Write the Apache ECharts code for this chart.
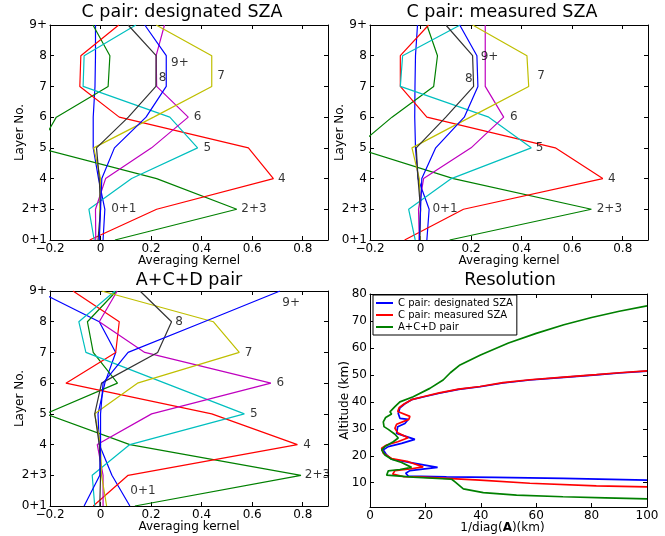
<!DOCTYPE html>
<html><head><meta charset="utf-8">
<script src="https://cdn.jsdelivr.net/npm/echarts@6/dist/echarts.min.js"></script>
<style>html,body{margin:0;padding:0;background:#fff}#c{width:665px;height:536px}</style>
</head><body><div id="c"></div>
<script>
// ---------- categories / tick labels ----------
const layerTicks = ['0+1','2+3','4','5','6','7','8','9+'];
const kernelNames = ['0+1','2+3','4','5','6','7','8','9+'];
const kernelColors = ['#0000ff','#008000','#ff0000','#00bfbf','#bf00bf','#bfbf00','#333333','#0000ff'];
const kernelXTicks = [-0.2, 0, 0.2, 0.4, 0.6, 0.8];
const resXTicks = [0, 20, 40, 60, 80, 100];
const resYTicks = [10, 20, 30, 40, 50, 60, 70, 80];

// ---------- C pair: designated SZA (rows of averaging kernel, layers 0+1 .. 9+) ----------
const des01 = [0.01, 0.017, -0.008, -0.029, -0.029, -0.022, -0.02, -0.02];
const des23 = [0.057, 0.539, 0.222, -0.245, -0.175, 0.03, 0.037, -0.03];
const des4  = [-0.043, 0.222, 0.684, 0.585, 0.074, -0.082, -0.078, 0.072];
const des5  = [-0.025, -0.046, 0.123, 0.384, 0.274, -0.069, -0.065, 0.14];
const des6  = [-0.019, -0.02, 0.02, 0.202, 0.347, 0.222, 0.22, 0.253];
const des7  = [-0.005, -0.003, 0.0, -0.027, 0.21, 0.44, 0.44, 0.22];
const des8  = [-0.01, 0.0, -0.005, -0.016, 0.11, 0.219, 0.22, 0.109];
const des9  = [-0.005, 0.0, 0.005, 0.055, 0.18, 0.26, 0.26, 0.175];
const desLabelX = [0.04, 0.555, 0.70, 0.405, 0.367, 0.46, 0.228, 0.277];
const desLabelY = [1, 1, 2, 3, 4, 5.34, 5.29, 5.76];

// ---------- C pair: measured SZA ----------
const mea01 = [0.025, 0.034, -0.01, -0.02, -0.023, -0.022, -0.02, -0.012];
const mea23 = [0.115, 0.676, 0.13, -0.258, -0.113, 0.052, 0.067, 0.025];
const mea4  = [-0.063, 0.17, 0.721, 0.533, 0.025, -0.08, -0.08, 0.032];
const mea5  = [-0.021, -0.047, 0.122, 0.438, 0.27, -0.08, -0.071, 0.157];
const mea6  = [-0.005, -0.008, 0.012, 0.2, 0.329, 0.256, 0.256, 0.256];
const mea7  = [-0.002, 0.0, -0.005, -0.034, 0.197, 0.428, 0.421, 0.206];
const mea8  = [-0.005, 0.0, -0.01, -0.017, 0.1, 0.21, 0.206, 0.1];
const mea9  = [-0.004, 0.0, 0.005, 0.06, 0.173, 0.227, 0.223, 0.155];
const meaLabelX = [0.045, 0.695, 0.74, 0.454, 0.352, 0.46, 0.174, 0.236];
const meaLabelY = [1, 1, 2, 3, 4, 5.34, 5.24, 5.95];

// ---------- A+C+D pair ----------
const acd01 = [0.116, 0.045, -0.005, -0.01, 0.017, 0.06, -0.005, -0.249];
const acd23 = [0.136, 0.793, 0.116, -0.217, 0.067, -0.029, -0.052, 0.063];
const acd4  = [-0.029, 0.109, 0.779, 0.44, -0.137, 0.06, 0.074, -0.109];
const acd5  = [-0.023, -0.033, 0.116, 0.569, 0.255, -0.058, -0.086, 0.057];
const acd6  = [0.01, 0.01, -0.013, 0.202, 0.674, 0.175, -0.005, 0.066];
const acd7  = [0.024, 0.004, 0.0, -0.023, 0.146, 0.549, 0.446, 0.004];
const acd8  = [-0.003, 0.0, -0.005, -0.023, 0.004, 0.226, 0.281, 0.156];
const acd9  = [-0.065, -0.003, 0.0, 0.0, 0.01, 0.109, 0.41, 0.71];
const acdLabelX = [0.116, 0.806, 0.80, 0.589, 0.694, 0.569, 0.294, 0.717];
const acdLabelY = [0.49, 1, 2, 3, 4, 5, 6, 6.62];

// ---------- Resolution: [1/diag(A) km, altitude km] ----------
const resDesignated = [[100,51.4],[90,50.7],[81.7,50],[70,49.1],[57.7,48.1],[48,47],[39.7,45.6],[32,44.6],[25,43.2],[19.5,41.9],[15,40.8],[12.6,39.3],[10.8,37.8],[10.2,35.7],[10.8,33.9],[13.8,33.5],[12.6,32],[10,30.8],[9.6,28.3],[13.2,27.1],[16.2,26.1],[11.4,24.6],[6.6,23.4],[4.8,22.2],[6,20.3],[7.8,18.7],[16.2,17.2],[24.4,15.7],[14.4,14.5],[12.9,13.5],[13.8,12.5],[27.6,12.2],[45.1,12],[69.7,11.6],[100,11.0]];
const resMeasured = [[100,51.5],[90,50.8],[81.7,50.1],[70,49.2],[57.7,48.2],[48,47.1],[39.7,45.7],[32,44.7],[25,43.3],[19.5,42],[15,40.8],[12.3,39.2],[10.5,37.8],[10,36.4],[14.4,34.6],[14,33.5],[9.6,31.7],[9,30.2],[10,28.5],[13.8,26.7],[10,25.2],[6,24],[4.2,22.8],[4.8,20.9],[7.8,19],[13.8,17.8],[19.2,15.9],[14.4,15.1],[9,14.5],[8.2,13.2],[12,12.3],[19.2,12.1],[39.7,11],[57.7,9.8],[81.7,8.8],[100,8.5]];
const resACD = [[100,4.0],[85,4.4],[69.7,4.8],[52.9,5.4],[40.9,6.3],[33.7,7.7],[30.7,10.3],[29.5,11.3],[15.6,12.1],[6,12.8],[6.6,14.4],[10.8,14.9],[15,15.7],[11.4,17.5],[7.8,18.7],[5.4,20.3],[4.2,22.2],[5.4,23.4],[8.4,25.2],[10.2,26.6],[9,28],[6.6,29.8],[5.05,30.8],[4.8,32.6],[5.65,34.2],[7.8,35.5],[7.2,36.3],[9,38.2],[10.8,40],[15.6,41.9],[21.6,45],[26.4,48.1],[29,50.8],[32.5,53.7],[39.9,57.4],[50,61.8],[60,65.4],[70,68.6],[80,71.3],[90,73.6],[100,75.6]];
const resNames = ['C pair: designated SZA','C pair: measured SZA','A+C+D pair'];
const resColors = ['#0000ff','#ff0000','#008000'];

// ---------- build ----------
const FONT = 'DejaVu Sans';
const panels = [
  {kernels:[des01,des23,des4,des5,des6,des7,des8,des9], lx:desLabelX, ly:desLabelY},
  {kernels:[mea01,mea23,mea4,mea5,mea6,mea7,mea8,mea9], lx:meaLabelX, ly:meaLabelY},
  {kernels:[acd01,acd23,acd4,acd5,acd6,acd7,acd8,acd9], lx:acdLabelX, ly:acdLabelY}
];
const gridBoxes = [
  {left:50, top:25, width:278, height:215},
  {left:370, top:25, width:278, height:215},
  {left:50, top:291, width:278, height:215},
  {left:370, top:294, width:277, height:213}
];
const xNames = ['Averaging Kernel','Averaging kernel','Averaging kernel'];

function fmtK(v){
  if (Math.abs(v) < 1e-9) return '0';
  return (Math.round(v*10)/10).toFixed(1).replace('-', '\u2212');
}
const lineCol = {color:'#000', width:1};
const tickStyle = {show:true, inside:true, length:4, lineStyle:{color:'#000', width:1}};
const lblStyle = {color:'#000', fontSize:12, fontFamily:FONT};
const nameStyle = {color:'#000', fontSize:12, fontFamily:FONT};

const xAxis = [], yAxis = [], series = [];
panels.forEach((p, gi) => {
  xAxis.push({gridIndex:gi, type:'value', min:-0.2, max:0.9, interval:0.2, position:'bottom',
    axisLine:{show:true, onZero:false, lineStyle:lineCol}, axisTick:tickStyle, splitLine:{show:false},
    axisLabel:Object.assign({margin:3, formatter:fmtK, showMaxLabel:false}, lblStyle),
    name:xNames[gi], nameLocation:'middle', nameGap:15, nameMoveOverlap:false, nameTextStyle:nameStyle});
  xAxis.push({gridIndex:gi, type:'value', min:-0.2, max:0.9, interval:0.2, position:'top',
    axisLine:{show:true, onZero:false, lineStyle:lineCol}, axisTick:tickStyle, splitLine:{show:false}, axisLabel:{show:false}});
  yAxis.push({gridIndex:gi, type:'value', min:0, max:7, interval:1, position:'left',
    axisLine:{show:true, onZero:false, lineStyle:lineCol}, axisTick:tickStyle, splitLine:{show:false},
    axisLabel:Object.assign({margin:3, formatter:v => layerTicks[Math.round(v)]}, lblStyle),
    name:'Layer No.', nameLocation:'middle', nameGap:24, nameMoveOverlap:false, nameTextStyle:nameStyle});
  yAxis.push({gridIndex:gi, type:'value', min:0, max:7, interval:1, position:'right',
    axisLine:{show:true, onZero:false, lineStyle:lineCol}, axisTick:tickStyle, splitLine:{show:false}, axisLabel:{show:false}});
  const xi = gi*2, yi = gi*2;
  p.kernels.forEach((vals, k) => {
    series.push({type:'line', name:'p'+gi+'_'+kernelNames[k], xAxisIndex:xi, yAxisIndex:yi,
      data: vals.map((v,i) => [v, i]), showSymbol:false, symbol:'none', animation:false, clip:true,
      lineStyle:{color:kernelColors[k], width:1.2}, itemStyle:{color:kernelColors[k]}, z:2+k});
  });
  series.push({type:'scatter', name:'lbl'+gi, xAxisIndex:xi, yAxisIndex:yi, symbolSize:1, animation:false,
    itemStyle:{color:'rgba(0,0,0,0)'}, silent:true, z:20,
    data: kernelNames.map((n,k) => ({name:n, value:[p.lx[k], p.ly[k]]})),
    label:{show:true, position:'right', distance:0, formatter:d => d.name, color:'#000', fontSize:12, fontFamily:FONT}});
});
// resolution panel axes
xAxis.push({gridIndex:3, type:'value', min:0, max:100, interval:20, position:'bottom',
  axisLine:{show:true, onZero:false, lineStyle:lineCol}, axisTick:tickStyle, splitLine:{show:false},
  axisLabel:Object.assign({margin:3}, lblStyle),
  name:'1/diag({b|A})(km)', nameLocation:'middle', nameGap:15, nameMoveOverlap:false,
  nameTextStyle:{color:'#000', fontSize:12, fontFamily:FONT, padding:[0,12,0,0],
    rich:{b:{fontWeight:'bold', fontSize:12, fontFamily:FONT, color:'#000'}}}});
xAxis.push({gridIndex:3, type:'value', min:0, max:100, interval:20, position:'top',
  axisLine:{show:true, onZero:false, lineStyle:lineCol}, axisTick:tickStyle, splitLine:{show:false}, axisLabel:{show:false}});
yAxis.push({gridIndex:3, type:'value', min:1, max:80, position:'left',
  axisLine:{show:true, onZero:false, lineStyle:lineCol},
  axisTick:Object.assign({customValues:resYTicks}, tickStyle), splitLine:{show:false},
  axisLabel:Object.assign({margin:3, customValues:resYTicks}, lblStyle),
  name:'Altitude (km)', nameLocation:'middle', nameGap:19, nameMoveOverlap:false, nameTextStyle:nameStyle});
yAxis.push({gridIndex:3, type:'value', min:1, max:80, position:'right',
  axisLine:{show:true, onZero:false, lineStyle:lineCol},
  axisTick:Object.assign({customValues:resYTicks}, tickStyle), splitLine:{show:false}, axisLabel:{show:false}});
[resDesignated, resMeasured, resACD].forEach((d, k) => {
  series.push({type:'line', name:resNames[k], xAxisIndex:6, yAxisIndex:6, data:d, showSymbol:false, symbol:'none',
    animation:false, clip:true, lineStyle:{color:resColors[k], width:1.7}, itemStyle:{color:resColors[k]}, z:2+k});
});

const titles = [
  {text:'C pair: designated SZA', x:182, y:3},
  {text:'C pair: measured SZA', x:502, y:3},
  {text:'A+C+D pair', x:189, y:271},
  {text:'Resolution', x:510, y:271}
];

const chart = echarts.init(document.getElementById('c'), null, {renderer:'canvas'});
chart.setOption({
  animation:false,
  backgroundColor:'#fff',
  grid: gridBoxes.map(b => Object.assign({outerBoundsMode:'none', containLabel:false}, b)),
  xAxis, yAxis, series,
  legend:{data:resNames, orient:'vertical', left:373, top:295, icon:'rect', itemWidth:17, itemHeight:2,
    itemGap:2, padding:[3,4,3,3], borderColor:'#000', borderWidth:1, borderRadius:0, backgroundColor:'#fff',
    selectedMode:false, textStyle:{color:'#000', fontSize:10, fontFamily:FONT}},
  graphic: titles.map(t => ({type:'text', x:t.x, y:t.y, silent:true,
    style:{text:t.text, fill:'#000', font:'17.5px "DejaVu Sans"', align:'center', verticalAlign:'top'}}))
});
</script></body></html>
